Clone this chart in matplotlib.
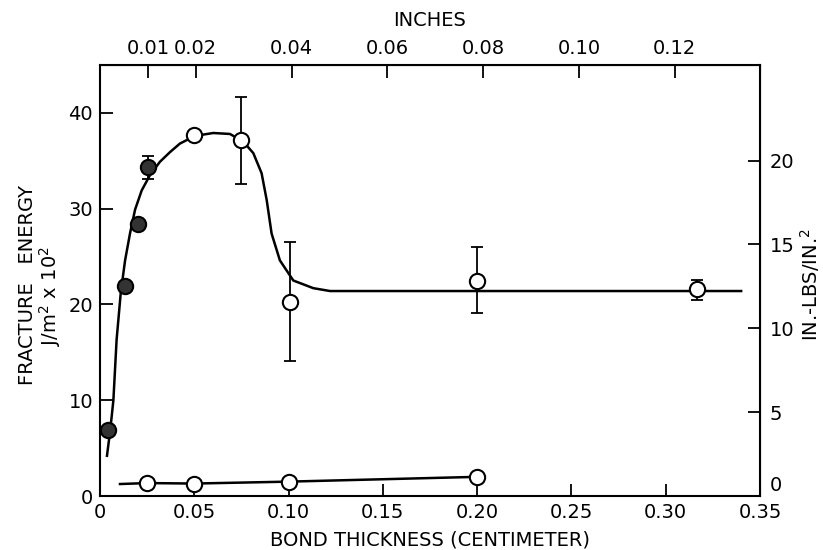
import numpy as np
import matplotlib.pyplot as plt
import matplotlib.transforms as mtransforms

plt.rcParams['font.family'] = 'DejaVu Sans'

# hatched (filled) points
x_fill = [0.0045, 0.0133, 0.020, 0.0255]
y_fill = [6.9, 21.9, 28.4, 34.3]
yerr_fill_lo = [0, 0, 0, 1.2]
yerr_fill_hi = [0, 0, 0, 1.2]

# open points, upper series
x_open = [0.050, 0.075, 0.1007, 0.200, 0.3166]
y_open = [37.7, 37.2, 20.3, 22.4, 21.6]
err_lo = [0, 4.6, 6.2, 3.3, 1.1]
err_hi = [0, 4.5, 6.2, 3.6, 1.0]

# open points, lower series
x_low = [0.025, 0.050, 0.100, 0.200]
y_low = [1.35, 1.3, 1.5, 2.0]
x_low_line = [0.0106, 0.025, 0.050, 0.100, 0.200]
y_low_line = [1.25, 1.35, 1.3, 1.5, 2.0]

# hand-drawn fit curve
x_curve = [0.0037, 0.0055, 0.0071, 0.0088, 0.0110, 0.0133, 0.0159, 0.0186, 0.0221,
           0.0265, 0.0318, 0.0371, 0.0424, 0.0504, 0.0601, 0.0689, 0.0760, 0.0813,
           0.0857, 0.0884, 0.0910, 0.0954, 0.1025, 0.1131, 0.122, 0.34]
y_curve = [4.2, 7.0, 10.0, 16.3, 21.2, 24.6, 27.4, 29.9, 31.9,
           33.5, 34.9, 35.9, 36.8, 37.6, 37.9, 37.8, 37.0, 35.8,
           33.7, 30.9, 27.4, 24.6, 22.5, 21.7, 21.4, 21.4]

top_ticks = [0.01, 0.02, 0.04, 0.06, 0.08, 0.10, 0.12]
right_ticks = [0, 5, 10, 15, 20]

fs = 14
fig = plt.figure(figsize=(8.23, 5.5), dpi=100)
ax = fig.add_axes([100 / 823, 1 - 496 / 550, 660 / 823, 431 / 550])

ax.plot(x_curve, y_curve, color='black', lw=1.8, zorder=2)
ax.plot(x_low_line, y_low_line, color='black', lw=1.8, zorder=2)

ax.errorbar(x_open, y_open, yerr=[err_lo, err_hi], fmt='none', ecolor='black',
            elinewidth=1.3, capsize=4, capthick=1.3, zorder=3)
ax.errorbar(x_fill, y_fill, yerr=[yerr_fill_lo, yerr_fill_hi], fmt='none', ecolor='black',
            elinewidth=1.3, capsize=4, capthick=1.3, zorder=3)

ax.plot(x_open, y_open, 'o', ms=11, mfc='white', mec='black', mew=1.5, zorder=4)
ax.plot(x_low, y_low, 'o', ms=11, mfc='white', mec='black', mew=1.5, zorder=4)
ax.plot(x_fill, y_fill, 'o', ms=11, mfc='#333333', mec='black', mew=1.5, zorder=4)

ax.set_xlim(0, 0.35)
ax.set_ylim(0, 45)
ax.set_xticks([0, 0.05, 0.10, 0.15, 0.20, 0.25, 0.30, 0.35])
ax.set_xticklabels(['0', '0.05', '0.10', '0.15', '0.20', '0.25', '0.30', '0.35'])
ax.set_yticks([0, 10, 20, 30, 40])
ax.tick_params(direction='in', length=9, width=1.3, labelsize=fs, pad=5)
for s in ax.spines.values():
    s.set_linewidth(1.5)

# top axis in inches
top = ax.secondary_xaxis('top', functions=(lambda c: c / 2.54, lambda i: i * 2.54))
top.set_xticks(top_ticks)
top.set_xticklabels([f'{t:.2f}' for t in top_ticks])
top.tick_params(direction='in', length=9, width=1.3, labelsize=fs, pad=5)

# right axis in in-lbs/in^2
right = ax.secondary_yaxis('right', functions=(lambda y: y * 0.571, lambda v: v / 0.571))
right.set_yticks(right_ticks)
right.tick_params(direction='in', length=9, width=1.3, labelsize=fs, pad=7)
# the right-hand "0" sits raised above the 0.35 label, as in the original
fig.canvas.draw()
zero_lbl = right.get_yticklabels()[0]
zero_lbl.set_transform(zero_lbl.get_transform() +
                       mtransforms.ScaledTranslation(0, 9 / 72, fig.dpi_scale_trans))

fig.text(430 / 823, 1 - 540 / 550, 'BOND THICKNESS (CENTIMETER)', ha='center', va='center', fontsize=fs)
fig.text(430 / 823, 1 - 20 / 550, 'INCHES', ha='center', va='center', fontsize=fs)
fig.text(28 / 823, 1 - 285 / 550, 'FRACTURE   ENERGY', ha='center', va='center', rotation=90, fontsize=fs)
fig.text(50 / 823, 1 - 296 / 550, r'J/m$^2$ x 10$^2$', ha='center', va='center', rotation=90, fontsize=fs)
fig.text(810 / 823, 1 - 285 / 550, r'IN.-LBS/IN.$^2$', ha='center', va='center', rotation=90, fontsize=fs)

fig.savefig('out.png', dpi=100)
